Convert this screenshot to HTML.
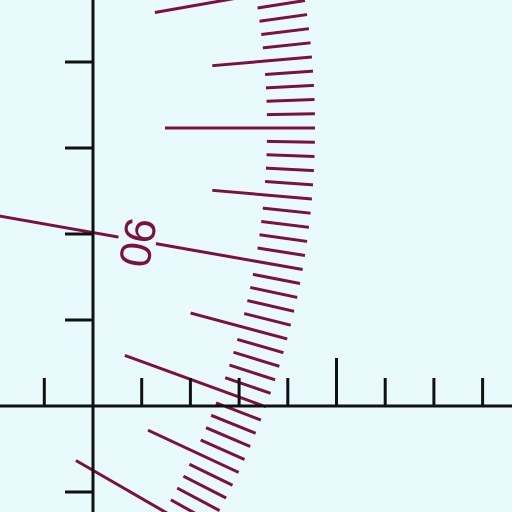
<!DOCTYPE html>
<html><head><meta charset="utf-8"><style>
html,body{margin:0;padding:0;background:#e9fafd;width:512px;height:512px;overflow:hidden;}
svg{display:block;overflow:hidden;}
</style></head><body>
<svg id="c" width="512" height="512" viewBox="0 0 512 512">
<rect width="512" height="512" fill="#e9fafd"/>
<g id="scale"></g>
<g id="axes"></g>
</svg>
<script>
// scale tick angles (degrees relative to horizontal) and their kinds
const scaleAngles = [-12,-11,-10,-9,-8,-7,-6,-5,-4,-3,-2,-1,0,1,2,3,4,5,6,7,8,9,10,11,12,13,14,15,16,17,18,19,20,21,22,23,24,25,26,27,28,29,30,31,32];
const scaleLabels = [{angle:10, text:"90"}];
const yTickValues = [-5,-4,-3,-2,-1,1];
const xTickValues = [-1,1,2,3,4,5,6,7,8];
const xTallTick = 5;

const NS = "http://www.w3.org/2000/svg";
const cx = -500, cy = 128, R = 815;
const COL = "#7d1043";
const scale = document.getElementById('scale');
function polar(r, a){ const t = a*Math.PI/180; return [cx + r*Math.cos(t), cy + r*Math.sin(t)]; }
scaleAngles.forEach(a => {
  let len = 48;
  if (a % 10 === 0) len = 150; else if (a % 5 === 0) len = 100;
  const lab = scaleLabels.find(l => l.angle === a);
  if (lab) len = 330;
  const p1 = polar(R, a), p2 = polar(R - len, a);
  const ln = document.createElementNS(NS, 'line');
  ln.setAttribute('x1', p1[0]); ln.setAttribute('y1', p1[1]);
  ln.setAttribute('x2', p2[0]); ln.setAttribute('y2', p2[1]);
  ln.setAttribute('stroke', COL); ln.setAttribute('stroke-width', '3');
  
  
  scale.appendChild(ln);
});
scaleLabels.forEach(l => {
  const p = polar(R - 168, l.angle);
  const bg = document.createElementNS(NS, 'rect');
  bg.setAttribute('x', p[0]-19); bg.setAttribute('y', p[1]-8);
  bg.setAttribute('width', 38); bg.setAttribute('height', 16);
  bg.setAttribute('fill', '#e9fafd');
  bg.setAttribute('transform', `rotate(${l.angle} ${p[0]} ${p[1]})`);
  
  
  scale.appendChild(bg);
  const t = document.createElementNS(NS, 'text');
  t.setAttribute('x', p[0]); t.setAttribute('y', p[1] + 2);
  t.setAttribute('fill', COL);
  t.setAttribute('font-family', 'Liberation Sans, sans-serif');
  t.setAttribute('font-size', '44');
  t.setAttribute('text-anchor', 'middle');
  t.setAttribute('dominant-baseline', 'central');
  t.setAttribute('transform', `rotate(${90 + l.angle} ${p[0]} ${p[1] + 2})`);
  
  
  t.textContent = l.text;
  scale.appendChild(t);
});
// axes
const axes = document.getElementById('axes');
const ox = 93, oy = 406, ySp = 86, xSp = 48.7;
function line(x1,y1,x2,y2,name,w){
  const ln = document.createElementNS(NS, 'line');
  ln.setAttribute('x1', x1); ln.setAttribute('y1', y1);
  ln.setAttribute('x2', x2); ln.setAttribute('y2', y2);
  ln.setAttribute('stroke', '#111'); ln.setAttribute('stroke-width', w||3);
  
  
  axes.appendChild(ln);
}
line(ox, 0, ox, 512, 'y-axis', 3);
line(0, oy, 512, oy, 'x-axis', 3);
yTickValues.forEach(v => { const y = oy + v*ySp; line(ox-28, y, ox, y, 'y-tick', 3); });
xTickValues.forEach(v => { const x = ox + v*xSp; const h = v === xTallTick ? 48 : 28; line(x, oy-h, x, oy, 'x-tick', 3); });
</script>
</body></html>
